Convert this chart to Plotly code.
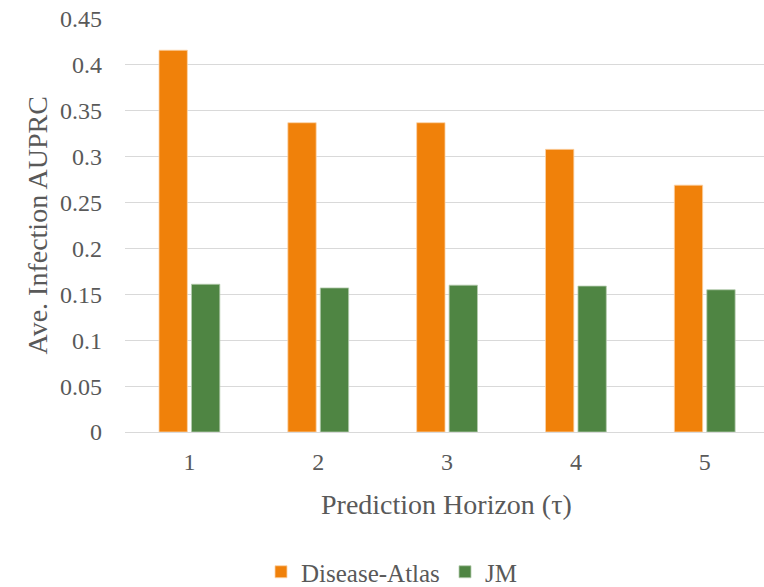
import plotly.graph_objects as go

categories = ["1", "2", "3", "4", "5"]
disease_atlas = [0.416, 0.337, 0.337, 0.308, 0.269]
jm = [0.161, 0.157, 0.160, 0.159, 0.155]
y_tick_vals = [0, 0.05, 0.1, 0.15, 0.2, 0.25, 0.3, 0.35, 0.4, 0.45]
y_tick_text = ["0", "0.05", "0.1", "0.15", "0.2", "0.25", "0.3", "0.35", "0.4", "0.45"]

FONT = "Liberation Serif"
GRAY = "#595959"

fig = go.Figure()
fig.add_trace(go.Bar(x=categories, y=disease_atlas, name="Disease-Atlas",
                     marker=dict(color="#F0810A", line=dict(color="#FBD3A8", width=0.8))))
fig.add_trace(go.Bar(x=categories, y=jm, name="JM",
                     marker=dict(color="#4F8543", line=dict(color="#B5CCAF", width=0.8))))

fig.update_layout(
    width=764, height=587,
    margin=dict(l=125, r=0, t=19, b=155, autoexpand=False),
    paper_bgcolor="white", plot_bgcolor="white",
    barmode="group", bargap=0.496, bargroupgap=0.127,
    font=dict(family=FONT, color=GRAY, size=24),
    showlegend=True,
    legend=dict(orientation="h", x=(261 - 125) / 639, xanchor="left",
                y=(432 - 572) / 413, yanchor="middle",
                font=dict(family=FONT, size=25, color=GRAY),
                entrywidth=139, entrywidthmode="pixels",
                traceorder="normal"),
    xaxis=dict(type="category", range=[-0.5, 4.46], showgrid=False, automargin=False,
               showline=True, linecolor="#d9d9d9", linewidth=1.2,
               ticks="", tickfont=dict(family=FONT, size=24, color=GRAY),
               ticklabelstandoff=8),
    yaxis=dict(range=[0, 0.45002], tickvals=y_tick_vals, ticktext=y_tick_text, automargin=False,
               showgrid=True, gridcolor="#d9d9d9", gridwidth=1.2,
               zeroline=False, showline=False, ticks="",
               tickfont=dict(family=FONT, size=24, color=GRAY),
               ticklabelstandoff=22),
    annotations=[
        dict(text="Prediction Horizon (τ)", xref="paper", yref="paper",
             x=(446 - 125) / 639, y=(432 - 504) / 413, xanchor="center", yanchor="middle",
             showarrow=False, font=dict(family=FONT, size=28, color=GRAY)),
        dict(text="Ave. Infection AUPRC", xref="paper", yref="paper",
             x=(37 - 125) / 639, y=0.5, xanchor="center", yanchor="middle", textangle=-90,
             showarrow=False, font=dict(family=FONT, size=28, color=GRAY)),
    ],
)

fig.write_html("out.html", config={"displayModeBar": False},
               post_script="document.body.style.margin='0';document.body.style.overflow='hidden';")
